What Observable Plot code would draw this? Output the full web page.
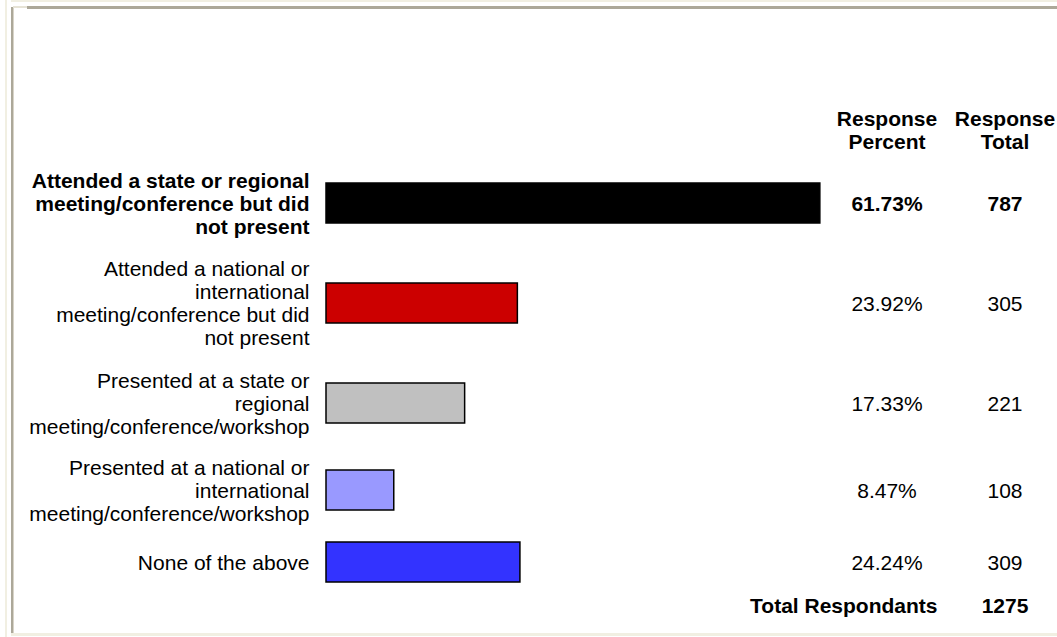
<!DOCTYPE html>
<html>
<head>
<meta charset="utf-8">
<script src="https://cdn.jsdelivr.net/npm/d3@7"></script>
<script src="https://cdn.jsdelivr.net/npm/@observablehq/plot@0.6"></script>
<style>
  body { margin: 0; background: #fff; }
  #wrap { position: relative; width: 1057px; height: 637px; overflow: hidden; background: #fff; }
  #wrap svg { position: absolute; left: 0; top: 0; }
  .b { position: absolute; }
</style>
</head>
<body>
<div id="wrap">
  <div class="b" style="left:5px;top:0;width:2px;height:637px;background:#F1EFE2"></div>
  <div class="b" style="left:11px;top:0;width:1046px;height:2px;background:#F1EFE2"></div>
  <div class="b" style="left:11px;top:7px;width:2px;height:626px;background:#ACA899"></div>
  <div class="b" style="left:13px;top:7px;width:1px;height:626px;background:#D8D4C8"></div>
  <div class="b" style="left:13px;top:6px;width:14px;height:2px;background:#E6E3D6"></div>
  <div class="b" style="left:27px;top:6px;width:1030px;height:3px;background:#ACA899"></div>
  <div class="b" style="left:11px;top:633px;width:1046px;height:3px;background:#F1EFE2"></div>
</div>
<script>
// ---- data ----
const categories = [
  "Attended a state or regional\nmeeting/conference but did\nnot present",
  "Attended a national or\ninternational\nmeeting/conference but did\nnot present",
  "Presented at a state or\nregional\nmeeting/conference/workshop",
  "Presented at a national or\ninternational\nmeeting/conference/workshop",
  "None of the above"
];
const responsePercent = [61.73, 23.92, 17.33, 8.47, 24.24];
const responseTotal = [787, 305, 221, 108, 309];
const percentLabels = ["61.73%", "23.92%", "17.33%", "8.47%", "24.24%"];
const headerLabels = ["Response\nPercent", "Response\nTotal"];
const totalLabel = "Total Respondants";
const totalRespondents = 1275;
const palette = ["#000000", "#CC0000", "#C0C0C0", "#9999FF", "#3333FF"];

// ---- layout (row heights follow the number of wrapped label lines) ----
const ROW_LINE = 26, ROW_PAD = 9, ROW_MIN = 57, TOP = 159.5, BAR_HALF = 20;
const HEADER_H = 60, TOTAL_H = 30;
let yCursor = TOP;
const rows = categories.map((label, i) => {
  const lines = label.split("\n").length;
  const h = Math.max(lines * ROW_LINE + ROW_PAD, ROW_MIN);
  const cy = yCursor + h / 2;
  yCursor += h;
  return {label, pct: responsePercent[i], total: String(responseTotal[i]), pctLabel: percentLabels[i],
          color: palette[i], cy, y1: cy - BAR_HALF, y2: cy + BAR_HALF, bold: i === 0};
});
const headerY = TOP - HEADER_H / 2;
const totalY = yCursor + TOTAL_H / 2;

// x scale: percent -> pixels (bars start at the table's bar column)
const X_DOMAIN = [0, 100], X_RANGE = [326, 1126];
const xPix = d3.scaleLinear(X_DOMAIN, X_RANGE);
// table column anchors, expressed in the same scale
const LABEL_X = xPix.invert(309), PCT_X = xPix.invert(886.5), TOT_X = xPix.invert(1004.5), TOTLBL_X = xPix.invert(937);

const FONT = "'Liberation Sans', Arial, Helvetica, sans-serif";
const FS = 21;

const boldRows = rows.filter(d => d.bold);
const normalRows = rows.filter(d => !d.bold);

const textCommon = {fontSize: FS, fill: "#000", lineHeight: 23 / FS, lineAnchor: "middle"};

const chart = Plot.plot({
  width: 1057,
  height: 637,
  margin: 0,
  x: {domain: X_DOMAIN, range: X_RANGE, axis: null},
  y: {type: "identity", axis: null},
  style: {fontFamily: FONT, background: "transparent", color: "#000", overflow: "visible"},
  marks: [
    Plot.rect(rows, {x1: 0, x2: "pct", y1: "y1", y2: "y2", fill: "color", stroke: "#000", strokeWidth: 1.5}),
    // category labels
    Plot.text(boldRows, {...textCommon, x: () => LABEL_X, y: "cy", text: "label", textAnchor: "end", fontWeight: "bold"}),
    Plot.text(normalRows, {...textCommon, x: () => LABEL_X, y: "cy", text: "label", textAnchor: "end"}),
    // percent column
    Plot.text(boldRows, {...textCommon, x: () => PCT_X, y: "cy", text: "pctLabel", textAnchor: "middle", fontWeight: "bold"}),
    Plot.text(normalRows, {...textCommon, x: () => PCT_X, y: "cy", text: "pctLabel", textAnchor: "middle"}),
    // total column
    Plot.text(boldRows, {...textCommon, x: () => TOT_X, y: "cy", text: "total", textAnchor: "middle", fontWeight: "bold"}),
    Plot.text(normalRows, {...textCommon, x: () => TOT_X, y: "cy", text: "total", textAnchor: "middle"}),
    // headers
    Plot.text([headerLabels[0]], {...textCommon, x: () => PCT_X, y: () => headerY, text: d => d, textAnchor: "middle", fontWeight: "bold"}),
    Plot.text([headerLabels[1]], {...textCommon, x: () => TOT_X, y: () => headerY, text: d => d, textAnchor: "middle", fontWeight: "bold"}),
    // total row
    Plot.text([totalLabel], {...textCommon, x: () => TOTLBL_X, y: () => totalY, text: d => d, textAnchor: "end", fontWeight: "bold"}),
    Plot.text([String(totalRespondents)], {...textCommon, x: () => TOT_X, y: () => totalY, text: d => d, textAnchor: "middle", fontWeight: "bold"})
  ]
});
document.getElementById("wrap").appendChild(chart);
</script>
</body>
</html>
